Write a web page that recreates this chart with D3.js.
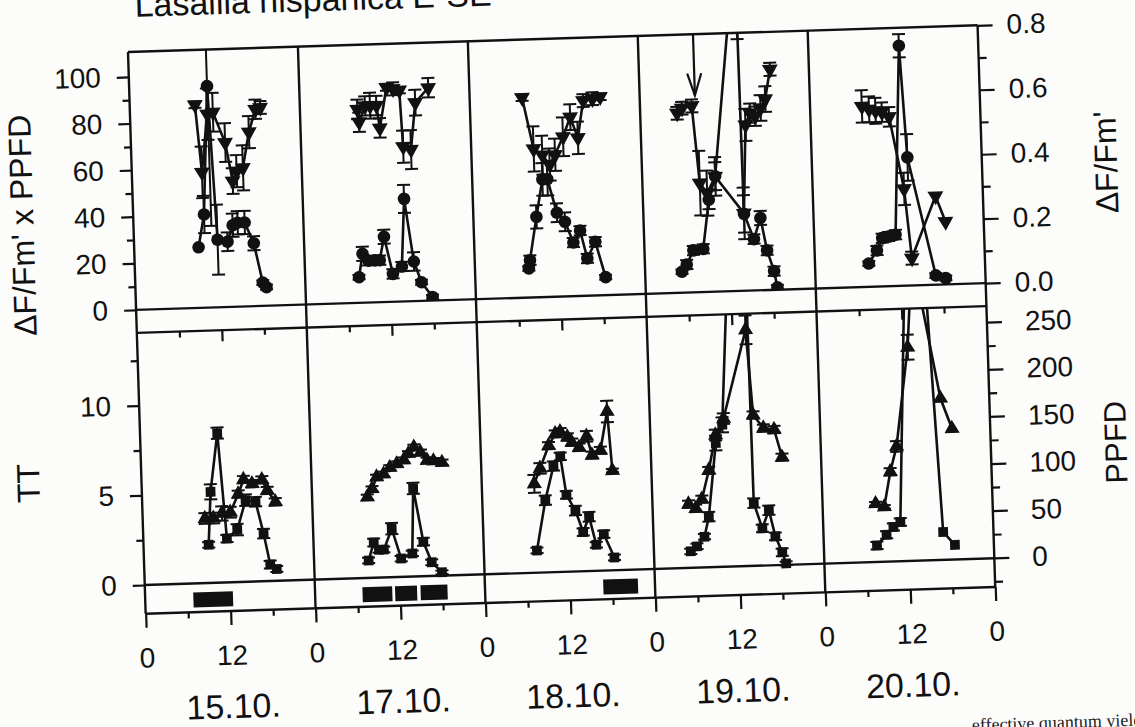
<!DOCTYPE html>
<html lang="en">
<head>
<meta charset="UTF-8">
<title>Lasallia hispanica E-SE</title>
<script src="https://d3js.org/d3.v7.min.js"></script>
<style>
  body { margin: 0; background: #fcfcfb; overflow: hidden; }
  svg { display: block; }
</style>
</head>
<body>
<svg id="chart" width="1135" height="727"></svg>
<script>
// ---- data ----
const days = ["15.10.", "17.10.", "18.10.", "19.10.", "20.10."];

// ΔF/Fm' x PPFD : filled circles, left axis of the upper panel
const etrHour = [
  [9.1, 10.0, 11.0, 11.8, 13.2, 14.0, 14.7, 15.7, 16.9, 18.0, 18.5],
  [7.6, 8.2, 9.0, 9.9, 10.6, 11.3, 12.4, 13.7, 14.3, 15.4, 16.4, 17.9],
  [7.6, 7.8, 8.9, 9.9, 10.6, 11.8, 12.9, 14.0, 15.0, 15.9, 17.1, 18.4],
  [5.2, 5.9, 6.9, 8.3, 9.3, 10.3, 14.0, 14.2, 15.5, 16.5, 17.3, 18.2, 18.6],
  [7.6, 8.8, 9.6, 10.5, 11.5, 12.8, 13.5, 17.0, 18.4]
];
const etrVal = [
  [26, 40, 95, 29, 28, 35, 36, 36, 27, 10, 8],
  [11, 21, 18, 18, 18, 28, 12, 15, 44, 17, 8, 1.5],
  [12.5, 16, 34.5, 50.5, 50.5, 36, 32, 23, 28, 16, 23, 7.7],
  [9, 12, 18, 18.5, 39.5, 49.5, 148, 33, 22, 31, 17, 8, 1],
  [10, 15.5, 20.7, 21.3, 22, 103, 55, 4, 2.7]
];
const etrErr = [
  [0, 8, 60, 15, 4, 5, 5, 5, 3, 1, 1],
  [1, 3, 2, 2, 2, 3, 2, 2, 6, 4, 1, 1],
  [1, 2, 5, 7, 7, 4, 4, 2, 2, 2, 2, 1],
  [1, 2, 2, 2, 4, 6, 40, 8, 2, 3, 2, 2, 1],
  [1, 2, 2, 2, 2, 5, 10, 1, 1]
];

// ΔF/Fm' : filled down-triangles, right axis of the upper panel
const yieldHour = [
  [9.2, 9.9, 10.9, 11.7, 13.3, 14.2, 14.8, 15.7, 16.7, 17.7, 18.4],
  [8.1, 8.3, 9.2, 9.9, 10.8, 11.2, 12.3, 13.2, 14.1, 14.4, 15.5, 16.3, 18.2],
  [7.4, 8.8, 10.0, 11.0, 11.8, 13.0, 14.1, 15.1, 16.0, 17.3, 18.4],
  [5.2, 5.9, 7.3, 8.1, 9.1, 10.3, 14.2, 14.8, 15.5, 16.2, 17.0, 17.7, 18.5],
  [7.3, 8.3, 9.2, 10.1, 11.1, 12.9, 13.7, 17.3, 18.6]
];
const yieldVal = [
  [0.63, 0.42, 0.60, 0.605, 0.51, 0.39, 0.42, 0.43, 0.54, 0.61, 0.615],
  [0.60, 0.56, 0.61, 0.61, 0.61, 0.54, 0.665, 0.66, 0.655, 0.48, 0.47, 0.615, 0.66],
  [0.62, 0.46, 0.44, 0.41, 0.44, 0.495, 0.555, 0.49, 0.605, 0.61, 0.615],
  [0.557, 0.572, 0.578, 0.338, 0.306, 0.357, 0.24, 0.514, 0.55, 0.54, 0.565, 0.592, 0.684],
  [0.56, 0.55, 0.545, 0.54, 0.525, 0.30, 0.085, 0.275, 0.195]
];
const yieldErr = [
  [0.01, 0.08, 0.08, 0.06, 0.06, 0.04, 0.05, 0.07, 0.05, 0.03, 0.02],
  [0.03, 0.03, 0.03, 0.04, 0.03, 0.03, 0.01, 0.02, 0.01, 0.05, 0.06, 0.04, 0.03],
  [0.01, 0.07, 0.06, 0.05, 0.05, 0.06, 0.04, 0.05, 0.02, 0.02, 0.01],
  [0.02, 0.02, 0.02, 0.10, 0.07, 0.06, 0.08, 0.05, 0.03, 0.03, 0.04, 0.04, 0.02],
  [0.05, 0.04, 0.04, 0.03, 0.03, 0.05, 0.02, 0, 0]
];

// PPFD : filled squares, right axis of the lower panel
const ppfdHour = [
  [9.2, 9.7, 10.9, 11.8, 13.3, 14.6, 16.0, 17.0, 17.8, 18.7],
  [7.7, 8.5, 9.2, 9.9, 11.1, 12.3, 13.9, 14.3, 15.5, 16.6, 18.0],
  [7.5, 8.9, 10.2, 11.2, 11.9, 13.1, 14.1, 15.0, 15.9, 17.0, 18.4],
  [5.2, 6.1, 7.2, 7.9, 9.2, 10.2, 14.0, 14.3, 15.4, 16.4, 17.2, 18.1, 18.6],
  [7.5, 8.9, 9.9, 10.9, 12.8, 13.6, 16.9, 18.5]
];
const ppfdVal = [
  [40, 96, 158, 46, 55, 86, 84, 50, 17, 12],
  [18, 37, 29, 29, 51, 19, 24, 93, 36, 14, 3],
  [23, 76, 112, 122, 81, 64, 41, 57, 27, 38, 13],
  [17, 22, 32, 53, 131, 150, 600, 66, 39, 58, 30, 13, 1],
  [17, 28, 36, 41, 340, 640, 29, 15]
];
const ppfdErr = [
  [3, 8, 6, 4, 6, 6, 5, 5, 4, 3],
  [3, 4, 3, 3, 6, 3, 3, 6, 4, 3, 2],
  [3, 5, 5, 4, 4, 5, 4, 5, 3, 4, 3],
  [3, 3, 3, 5, 8, 8, 0, 5, 4, 5, 4, 4, 2],
  [4, 4, 4, 4, 0, 0, 0, 0]
];

// TT : filled up-triangles, left axis of the lower panel
const ttHour = [
  [8.8, 10.0, 11.2, 12.4, 13.6, 14.4, 15.6, 17.0, 17.7, 18.8],
  [7.8, 8.5, 9.2, 10.2, 11.1, 12.1, 13.1, 13.8, 14.6, 15.5, 16.4, 17.3, 18.5],
  [7.4, 8.3, 9.6, 10.6, 11.3, 12.3, 12.9, 13.9, 15.0, 15.7, 16.9, 18.0, 18.5],
  [5.1, 6.1, 7.0, 8.1, 9.2, 10.4, 13.9, 14.6, 16.0, 17.5, 18.5],
  [7.5, 8.7, 9.7, 10.7, 12.7, 13.7, 17.1, 18.6]
];
const ttVal = [
  [3.6, 3.6, 3.85, 3.9, 4.9, 5.7, 5.45, 5.65, 5.05, 4.4],
  [4.5, 4.95, 5.6, 5.75, 6.1, 6.3, 6.5, 6.85, 7.2, 6.9, 6.45, 6.4, 6.3],
  [4.95, 5.8, 7.05, 7.7, 7.8, 7.5, 7.2, 6.9, 7.5, 6.45, 6.7, 8.85, 5.55],
  [3.55, 3.3, 3.8, 5.4, 7.35, 8.25, 13.15, 8.4, 7.65, 7.55, 6.0],
  [3.25, 3.05, 5.0, 6.4, 11.9, 17.1, 9.0, 7.3]
];
const ttErr = [
  [0.3, 0.3, 0.4, 0.3, 0.2, 0.2, 0.2, 0.2, 0.2, 0.2],
  [0.15, 0.15, 0.15, 0.15, 0.15, 0.15, 0.15, 0.15, 0.15, 0.15, 0.15, 0.15, 0.15],
  [0.5, 0.3, 0.2, 0.2, 0.2, 0.2, 0.2, 0.2, 0.3, 0.2, 0.2, 0.6, 0.1],
  [0.2, 0.2, 0.2, 0.2, 0.3, 0.3, 0.8, 0.2, 0.2, 0.2, 0.2],
  [0.1, 0.1, 0.2, 0.3, 0.7, 0, 0, 0]
];

// black bars in the strip under the lower panel (start, end hour)
const barHours = [
  [[6.8, 12.4]],
  [[6.7, 10.9], [11.3, 14.4], [14.9, 18.7]],
  [[16.7, 21.6]],
  [],
  []
];

// arrow in the 19.10. panel
const arrowHour = 7.8;
const arrowTip = 0.61;

// ---- layout ----
const ink = "#111";
const font = "'Liberation Sans', Arial, Helvetica, sans-serif";
const panelW = 170, W = panelW * days.length;
const topH = 258, botTop = 281, botBottom = 562;
const cap = 6.5;

const svg = d3.select("#chart");
// the scanned page is slightly tilted
const g = svg.append("g").attr("transform", "translate(128,52) rotate(-1.8)");

const x = d3.scaleLinear().domain([0, 24 * days.length]).range([0, W]);
const yEtr = d3.scaleLinear().domain([0, 110.7]).range([topH, 0]);
const yYield = d3.scaleLinear().domain([0, 0.8]).range([topH, 0]);
const yTT = d3.scaleLinear().domain([-1.6, 14.05]).range([botBottom, botTop]);
const yPPFD = d3.scaleLinear().domain([-31, 267]).range([botBottom, botTop]);

const defs = svg.append("defs");
defs.append("clipPath").attr("id", "clipTop")
  .append("rect").attr("x", 0).attr("y", 0).attr("width", W).attr("height", topH);
defs.append("clipPath").attr("id", "clipBot")
  .append("rect").attr("x", 0).attr("y", botTop).attr("width", W).attr("height", botBottom - botTop);

// title (mostly cut off by the scan)
g.append("text").attr("x", 8).attr("y", -35)
  .attr("font-family", font).attr("font-size", 34).attr("fill", ink)
  .text("Lasallia hispanica E-SE");

// black bars
const bars = g.append("g").attr("fill", ink);
barHours.forEach((list, day) => {
  list.forEach(b => {
    bars.append("rect")
      .attr("x", x(day * 24 + b[0]))
      .attr("width", x(b[1]) - x(b[0]))
      .attr("y", yTT(0) + 9)
      .attr("height", 15);
  });
});

// frame
const frame = g.append("g").attr("stroke", ink).attr("stroke-width", 2.4);
[0, topH, botTop, yTT(0), botBottom].forEach(v => {
  frame.append("line").attr("x1", 0).attr("x2", W).attr("y1", v).attr("y2", v);
});
d3.range(days.length + 1).forEach(d => {
  frame.append("line").attr("x1", d * panelW).attr("x2", d * panelW).attr("y1", 0).attr("y2", botBottom);
});

// axes
function addAxis(axis, tx, ty, vals, size, pad, fmt, fs) {
  const a = g.append("g").attr("transform", `translate(${tx},${ty})`)
    .call(axis.tickValues(vals).tickSize(size).tickPadding(pad).tickFormat(fmt));
  a.select(".domain").remove();
  a.attr("font-size", fs).attr("font-family", font);
  a.selectAll("line").attr("stroke", ink).attr("stroke-width", 2.2);
  a.selectAll("text").attr("fill", ink);
  return a;
}
const none = () => "";

// upper left: ΔF/Fm' x PPFD
addAxis(d3.axisLeft(yEtr), 0, 0, d3.range(0, 101, 20), 12, 16, d3.format("d"), 28);
addAxis(d3.axisLeft(yEtr), 0, 0, d3.range(10, 100, 20), 7, 0, none, 28);
// lower left: TT
addAxis(d3.axisLeft(yTT), 0, 0, [0, 5, 10], 12, 16, d3.format("d"), 28);
addAxis(d3.axisLeft(yTT), 0, 0, [2.5, 7.5, 12.5], 7, 0, none, 28);
// upper right: ΔF/Fm'
addAxis(d3.axisRight(yYield), W, 0, [0, 0.2, 0.4, 0.6, 0.8], 15, 14, d3.format(".1f"), 28);
addAxis(d3.axisRight(yYield), W, 0, [0.1, 0.3, 0.5, 0.7], 8, 0, none, 28);
// lower right: PPFD
addAxis(d3.axisRight(yPPFD), W, 0, d3.range(0, 251, 50), 15, 23, d3.format("d"), 28);
addAxis(d3.axisRight(yPPFD), W, 0, d3.range(-25, 250, 50), 8, 0, none, 28);
// time axis, below
const hoursMajor = d3.range(0, 24 * days.length + 1, 12);
const hoursMinor = d3.range(6, 24 * days.length, 12);
addAxis(d3.axisBottom(x), 0, botBottom, hoursMajor, 14, 20, d => d % 24, 28);
addAxis(d3.axisBottom(x), 0, botBottom, hoursMinor, 6, 0, none, 28);
// inward ticks on top of the lower panel
addAxis(d3.axisBottom(x), 0, botTop, hoursMajor.filter(h => h % 24 !== 0), 11, 0, none, 28);
addAxis(d3.axisBottom(x), 0, botTop, hoursMinor, 6, 0, none, 28);

// date labels
g.append("g").attr("font-family", font).attr("font-size", 34).attr("fill", ink)
  .selectAll("text").data(days).join("text")
  .attr("x", (d, i) => x(i * 24 + 12)).attr("y", 669)
  .attr("text-anchor", "middle").text(d => d);

// axis titles
function axisTitle(txt, cx, cy, fs) {
  g.append("text").attr("transform", `translate(${cx},${cy}) rotate(-90)`)
    .attr("text-anchor", "middle").attr("dominant-baseline", "central")
    .attr("font-family", font).attr("font-size", fs).attr("fill", ink)
    .text(txt);
}
axisTitle("ΔF/Fm' x PPFD", -111, 170, 32);
axisTitle("TT", -113, 428, 32);
axisTitle("ΔF/Fm'", 974, 141, 32);
axisTitle("PPFD", 975, 421, 31);

// data series
const topLayer = g.append("g").attr("clip-path", "url(#clipTop)");
const botLayer = g.append("g").attr("clip-path", "url(#clipBot)");

function drawSeries(layer, hours, vals, errs, y, symType, symSize, rot) {
  hours.forEach((hs, day) => {
    const pts = hs.map((h, i) => ({
      x: x(day * 24 + h),
      y: y(vals[day][i]),
      lo: y(vals[day][i] - errs[day][i]),
      hi: y(vals[day][i] + errs[day][i]),
      e: errs[day][i]
    }));
    layer.append("path").datum(pts)
      .attr("d", d3.line().x(d => d.x).y(d => d.y))
      .attr("fill", "none").attr("stroke", ink).attr("stroke-width", 2.6);
    const eb = layer.append("g").attr("stroke", ink).attr("stroke-width", 2);
    pts.filter(d => d.e > 0).forEach(d => {
      eb.append("line").attr("x1", d.x).attr("x2", d.x).attr("y1", d.lo).attr("y2", d.hi);
      eb.append("line").attr("x1", d.x - cap).attr("x2", d.x + cap).attr("y1", d.lo).attr("y2", d.lo);
      eb.append("line").attr("x1", d.x - cap).attr("x2", d.x + cap).attr("y1", d.hi).attr("y2", d.hi);
    });
    layer.append("g").selectAll("path").data(pts).join("path")
      .attr("transform", d => `translate(${d.x},${d.y}) rotate(${rot})`)
      .attr("d", d3.symbol(symType, symSize)).attr("fill", ink);
  });
}

drawSeries(topLayer, yieldHour, yieldVal, yieldErr, yYield, d3.symbolTriangle, 110, 180);
drawSeries(topLayer, etrHour, etrVal, etrErr, yEtr, d3.symbolCircle, 125, 0);
drawSeries(botLayer, ttHour, ttVal, ttErr, yTT, d3.symbolTriangle, 100, 0);
drawSeries(botLayer, ppfdHour, ppfdVal, ppfdErr, yPPFD, d3.symbolSquare, 95, 0);

// arrow
const ax = x(3 * 24 + arrowHour), ay = yYield(arrowTip);
g.append("line").attr("x1", ax).attr("x2", ax).attr("y1", 0).attr("y2", ay)
  .attr("stroke", ink).attr("stroke-width", 2.2);
g.append("path").attr("d", `M${ax - 7},${ay - 22}L${ax},${ay}L${ax + 7},${ay - 22}`)
  .attr("fill", "none").attr("stroke", ink).attr("stroke-width", 2.2);

// caption line of the page below, cut by the scan edge
svg.append("text").attr("transform", "translate(972,731) rotate(-1.8)")
  .attr("font-family", "'Liberation Serif', 'DejaVu Serif', serif")
  .attr("font-size", 18).attr("fill", "#222")
  .text("effective quantum yield");
</script>
</body>
</html>
